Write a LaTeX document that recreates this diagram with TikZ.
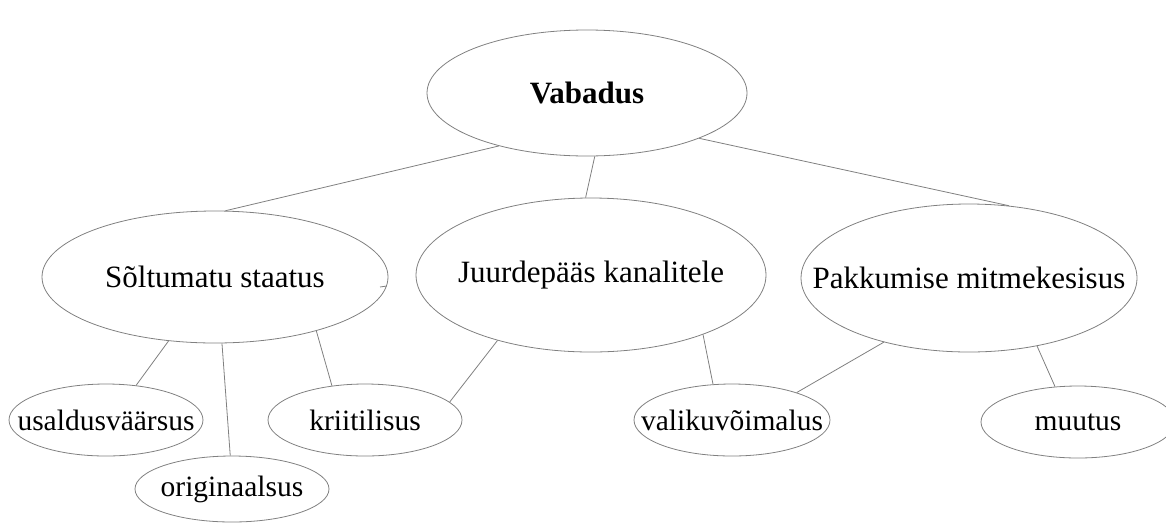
\documentclass[tikz,border=0pt]{standalone}
\usepackage{fontspec}
\setmainfont{Liberation Serif}
\usetikzlibrary{shapes.geometric}
\newcommand{\etiquette}[1]{\makebox[0pt]{#1}}
\begin{document}
\begin{tikzpicture}[x=1pt,y=-1pt]
		\tikzstyle{ovale}=[ellipse, draw=gray, line width=0.8pt, inner sep=0pt, font=\fontsize{31}{37}\selectfont]
		\tikzstyle{ovale_petit}=[ovale, minimum width=194pt, minimum height=72pt, font=\fontsize{29.5}{35}\selectfont]
		\tikzstyle{lien}=[draw=gray, line width=0.8pt]
		\useasboundingbox (0,0) rectangle (1166,523);
		\node[ovale, minimum width=320pt, minimum height=126pt] (vab) at (587,93) {\etiquette{\textbf{Vabadus}}}; % haut
		\node[ovale, minimum width=346pt, minimum height=132pt] (sol) at (215,277) {\etiquette{Sõltumatu staatus}};
		\node[ovale, minimum width=350pt, minimum height=154pt] (juur) at (591,275) {\etiquette{Juurdepääs kanalitele}};
		\node[ovale, minimum width=336pt, minimum height=148pt] (pak) at (969,278) {\etiquette{Pakkumise mitmekesisus}};
		\node[ovale_petit] (usal) at (106,420) {\etiquette{usaldusväärsus}}; % bas
		\node[ovale_petit, minimum height=66pt] (orig) at (232,489) {\etiquette{originaalsus}};
		\node[ovale_petit] (kriit) at (365,420) {\etiquette{kriitilisus}};
		\node[ovale_petit, minimum width=196pt] (valik) at (732,420) {\etiquette{valikuvõimalus}};
		\node[ovale_petit] (muut) at (1078,422) {\etiquette{muutus}};
		\draw[lien] (vab.211.8) -- (sol.81);
		\draw[lien] (vab.277) -- (juur.94.5);
		\draw[lien] (vab.338.3) -- (pak.61);
		\draw[lien] (sol.234.5) -- (usal.49.3);
		\draw[lien] (sol.276) -- (orig.93.5);
		\draw[lien] (sol.332.5) -- (kriit.134);
		\coordinate (bout) at (380,287);
		\draw[lien] (bout) -- (sol.-3.35);
		\draw[lien] (juur.215.2) -- (kriit.12.1);
		\draw[lien] (juur.332.6) -- (valik.118.5);
		\draw[lien] (pak.217.5) -- (valik.23.2);
		\draw[lien] (pak.315.8) -- (muut.123.7);
	\end{tikzpicture}
\end{document}
